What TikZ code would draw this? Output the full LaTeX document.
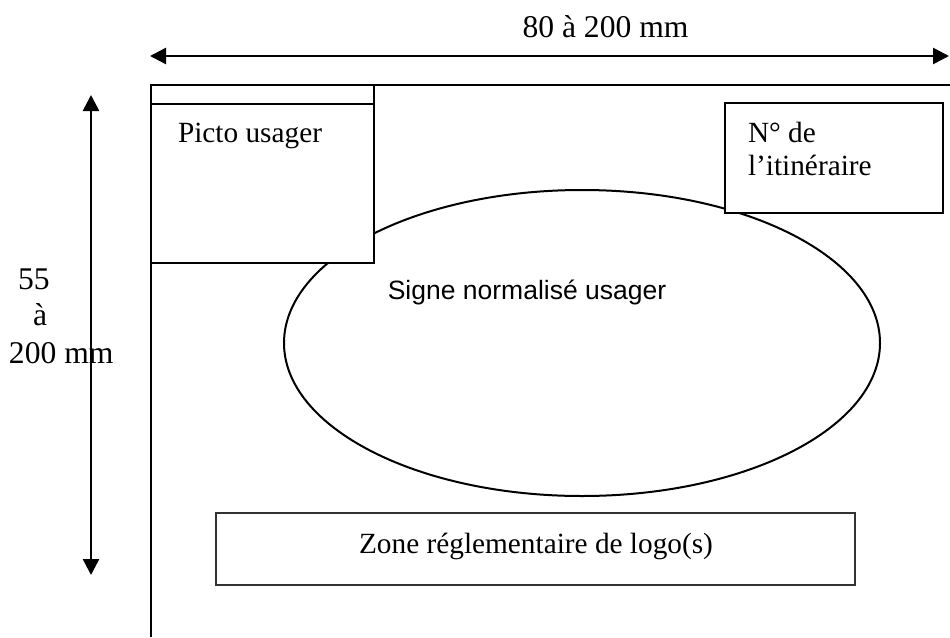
\documentclass[tikz,border=0pt]{standalone}
\usepackage{fontspec}
\setmainfont{Liberation Serif}
\setsansfont{Liberation Sans}
\usetikzlibrary{positioning}
\usetikzlibrary{arrows.meta}
\usetikzlibrary{shapes.geometric}

\begin{document}
\begin{tikzpicture}
  [
  x=1pt, y=-1pt,
  % 余白なし
  every node/.style={inner sep=0, outer sep=0},
  % 文字
  txt/.style={font=\fontsize{29.3}{36}\selectfont},
  btxt/.style={font=\fontsize{31.6}{36}\selectfont},
  stxt/.style={font=\sffamily\fontsize{26.5}{32}\selectfont},
  % 寸法矢印
  dim/.style={{Triangle[length=16pt, width=16pt]}-{Triangle[length=16pt, width=16pt]},
  line width=2.6pt},
  % 外枠
  frame/.style={line width=2.6pt},
  % ブロック
  block/.style={rectangle, draw, line width=2pt, fill=white}
  ]
  \useasboundingbox (0,0) rectangle (950,637);
  % 外枠
  \coordinate (fbl) at (151,637);
  \coordinate (ftl) at (151,85);
  \coordinate (ftr) at (950,85);
  \draw [frame] (fbl) -- (ftl) -- (ftr);
  % 寸法
  \coordinate (wl) at (150,56);
  \coordinate (wr) at (949,56);
  \draw [dim] (wl) -- (wr);
  \node [btxt, anchor=base] (largeur) at (605.5,37) {80 à 200 mm};
  \coordinate (ht) at (91,95);
  \coordinate (hb) at (91,575);
  \node [btxt, anchor=base west] (h1) at (18,289) {55};
  \node [btxt, anchor=base west] (h2) at (33,325) {à};
  \node [btxt, anchor=base west] (h3) at (9,363) {200 mm};
  \draw [dim] (ht) -- (hb);
  % 楕円
  \node [ellipse, draw, line width=2pt, minimum width=596pt,
  minimum height=306pt] (signe) at (582,343) {};
  \node [stxt, anchor=base] (signetxt) at (527,299) {Signe normalisé usager};
  % 左上
  \node [block, minimum width=223pt, minimum height=19pt] (bande) at (262.5,94.5) {};
  \node [block, minimum width=223pt, minimum height=159pt, below=0pt of bande] (picto) {};
  \node [txt, anchor=base west] (pictotxt) at (178,142) {Picto usager};
  % 右上
  \node [block, line width=1.8pt, minimum width=218pt, minimum height=110pt] (num) at (834,158) {};
  \node [txt, anchor=base west] (num1) at (748,142) {N° de};
  \node [txt, anchor=base west] (num2) at (748,175) {l’itinéraire};
  % 下
  \node [block, line width=1.6pt, draw=black!80, minimum width=639pt,
  minimum height=72pt] (zone) at (535.5,549) {};
  \node [txt, anchor=base] (zonetxt) at (536,553) {Zone réglementaire de logo(s)};
\end{tikzpicture}
\end{document}
